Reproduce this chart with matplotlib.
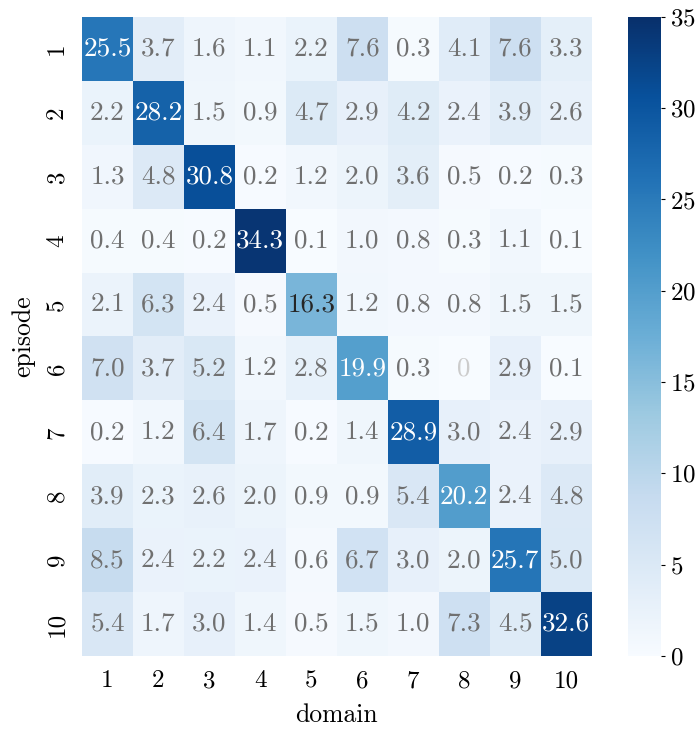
import numpy as np
import matplotlib
matplotlib.use("Agg")
import matplotlib.pyplot as plt
import seaborn as sns

# share of each episode's samples assigned to each domain (%)
episodes = [str(i) for i in range(1, 11)]
domains = [str(i) for i in range(1, 11)]
row1 = [25.5, 3.7, 1.6, 1.1, 2.2, 7.6, 0.3, 4.1, 7.6, 3.3]
row2 = [2.2, 28.2, 1.5, 0.9, 4.7, 2.9, 4.2, 2.4, 3.9, 2.6]
row3 = [1.3, 4.8, 30.8, 0.2, 1.2, 2.0, 3.6, 0.5, 0.2, 0.3]
row4 = [0.4, 0.4, 0.2, 34.3, 0.1, 1.0, 0.8, 0.3, 1.1, 0.1]
row5 = [2.1, 6.3, 2.4, 0.5, 16.3, 1.2, 0.8, 0.8, 1.5, 1.5]
row6 = [7.0, 3.7, 5.2, 1.2, 2.8, 19.9, 0.3, 0.0, 2.9, 0.1]
row7 = [0.2, 1.2, 6.4, 1.7, 0.2, 1.4, 28.9, 3.0, 2.4, 2.9]
row8 = [3.9, 2.3, 2.6, 2.0, 0.9, 0.9, 5.4, 20.2, 2.4, 4.8]
row9 = [8.5, 2.4, 2.2, 2.4, 0.6, 6.7, 3.0, 2.0, 25.7, 5.0]
row10 = [5.4, 1.7, 3.0, 1.4, 0.5, 1.5, 1.0, 7.3, 4.5, 32.6]

mat = np.array([row1, row2, row3, row4, row5, row6, row7, row8, row9, row10])

plt.rcParams["font.family"] = "cmr10"
plt.rcParams["mathtext.fontset"] = "cm"
plt.rcParams["axes.formatter.use_mathtext"] = True

fig = plt.figure(figsize=(6.99, 7.33), dpi=100)
ax = fig.add_axes([0.1173, 0.105, 0.729, 0.872])
cax = fig.add_axes([0.898, 0.105, 0.047, 0.872])

sns.heatmap(mat, ax=ax, cbar_ax=cax, cmap="Blues", vmin=0, vmax=35,
            xticklabels=domains, yticklabels=episodes, annot=False)

# cell labels: white on dark cells, grey on pale ones
for i in range(mat.shape[0]):
    for j in range(mat.shape[1]):
        v = mat[i, j]
        if v == 0:
            txt, col = "0", "#cccccc"
        else:
            txt = f"{v:.1f}"
            if v > 18:
                col = "white"
            elif v > 12:
                col = "#262626"
            else:
                col = "#707070"
        ax.text(j + 0.5, i + 0.5, txt, ha="center", va="center",
                fontsize=19.5, color=col)

ax.tick_params(length=0, labelsize=18, pad=10)
ax.set_yticklabels(episodes, rotation=90, va="center")
ax.set_xticklabels(domains, rotation=0)
ax.set_xlabel("domain", fontsize=18.5, labelpad=8)
ax.set_ylabel("episode", fontsize=18.5, labelpad=8)

cax.tick_params(labelsize=18, length=3, width=0.8)
cax.set_yticks([0, 5, 10, 15, 20, 25, 30, 35])
for s in cax.spines.values():
    s.set_visible(False)

fig.savefig("out.png", dpi=100)
